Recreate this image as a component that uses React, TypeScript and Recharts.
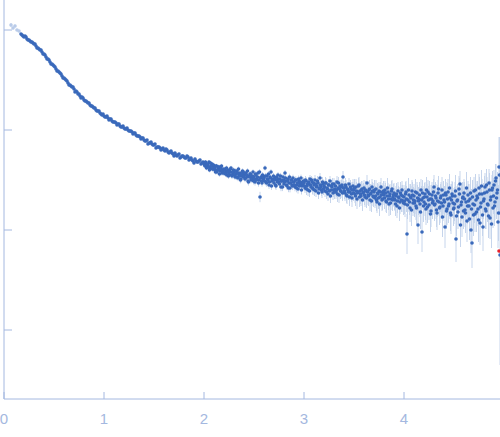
import { ScatterChart, Scatter, XAxis, YAxis, ErrorBar } from 'recharts';

const axisColor = '#a4b8e0';
const pointColor = '#3a69bb';
const excludedColor = '#b9cbe9';
const errorColor = '#c6d5ec';

// x: scattering vector q (nm^-1), y: log10 of intensity
const xTicks = [0, 1, 2, 3, 4];
const yTicks = [-3, -2, -1, 0];

// first points, drawn pale (excluded from fit)
const qExcluded = [0.07, 0.09, 0.11, 0.13, 0.15];
const logIExcluded = [0.05, 0.02, 0.04, 0.0, -0.01];
const errExcluded = [0.02, 0.015, 0.015, 0.01, 0.01];

const qLow = [
  0.17, 0.19, 0.21, 0.23, 0.25, 0.27, 0.29, 0.31, 0.33, 0.35,
  0.37, 0.39, 0.41, 0.43, 0.45, 0.47, 0.49, 0.51, 0.53, 0.55,
  0.57, 0.59, 0.61, 0.63, 0.65, 0.67, 0.69, 0.71, 0.73, 0.75,
  0.77, 0.79, 0.81, 0.83, 0.85, 0.87, 0.89, 0.91, 0.93, 0.95,
  0.97, 0.99, 1.01, 1.03, 1.05, 1.07, 1.09, 1.11, 1.13, 1.15,
  1.17, 1.19, 1.21, 1.23, 1.25, 1.27, 1.29, 1.31, 1.33, 1.35,
  1.37, 1.39, 1.41, 1.43, 1.45, 1.47, 1.49, 1.51, 1.53, 1.55,
  1.57, 1.59, 1.61, 1.63, 1.65, 1.67, 1.69, 1.71, 1.73, 1.75,
  1.77, 1.79, 1.81, 1.83, 1.85, 1.87, 1.89, 1.91, 1.93, 1.95,
  1.97, 1.99,
];
const logILow = [
  -0.04, -0.06, -0.06, -0.09, -0.1, -0.12, -0.13, -0.14, -0.18, -0.19,
  -0.2, -0.24, -0.25, -0.29, -0.3, -0.34, -0.35, -0.37, -0.41, -0.42,
  -0.44, -0.48, -0.49, -0.51, -0.55, -0.56, -0.57, -0.62, -0.62, -0.64,
  -0.68, -0.68, -0.71, -0.72, -0.73, -0.76, -0.77, -0.78, -0.81, -0.81,
  -0.84, -0.84, -0.87, -0.86, -0.9, -0.89, -0.92, -0.92, -0.95, -0.94,
  -0.97, -0.96, -0.99, -0.98, -1.01, -1.01, -1.04, -1.03, -1.06, -1.06,
  -1.09, -1.08, -1.11, -1.1, -1.13, -1.12, -1.15, -1.14, -1.17, -1.17,
  -1.2, -1.18, -1.21, -1.2, -1.23, -1.21, -1.24, -1.23, -1.26, -1.24,
  -1.27, -1.26, -1.28, -1.26, -1.3, -1.28, -1.31, -1.29, -1.32, -1.31,
  -1.34, -1.32,
];
const errLow = [
  0.004, 0.004, 0.004, 0.004, 0.004, 0.004, 0.004, 0.004, 0.004, 0.004,
  0.004, 0.004, 0.004, 0.004, 0.004, 0.004, 0.004, 0.004, 0.004, 0.004,
  0.005, 0.005, 0.005, 0.005, 0.005, 0.005, 0.005, 0.005, 0.005, 0.005,
  0.006, 0.006, 0.006, 0.006, 0.006, 0.006, 0.006, 0.006, 0.006, 0.006,
  0.007, 0.007, 0.007, 0.007, 0.007, 0.007, 0.008, 0.008, 0.008, 0.008,
  0.009, 0.009, 0.009, 0.009, 0.009, 0.01, 0.01, 0.01, 0.01, 0.01,
  0.011, 0.011, 0.011, 0.011, 0.012, 0.012, 0.012, 0.012, 0.013, 0.013,
  0.013, 0.013, 0.014, 0.014, 0.014, 0.014, 0.015, 0.015, 0.015, 0.015,
  0.016, 0.016, 0.016, 0.016, 0.017, 0.017, 0.017, 0.017, 0.018, 0.018,
  0.019, 0.019,
];

// points lying between the low-q points above
const qLowB = [
  0.18, 0.2, 0.22, 0.24, 0.26, 0.28, 0.3, 0.32, 0.34, 0.36,
  0.38, 0.4, 0.42, 0.44, 0.46, 0.48, 0.5, 0.52, 0.54, 0.56,
  0.58, 0.6, 0.62, 0.64, 0.66, 0.68, 0.7, 0.72, 0.74, 0.76,
  0.78, 0.8, 0.82, 0.84, 0.86, 0.88, 0.9, 0.92, 0.94, 0.96,
  0.98, 1.0, 1.02, 1.04, 1.06, 1.08, 1.1, 1.12, 1.14, 1.16,
  1.18, 1.2, 1.22, 1.24, 1.26, 1.28, 1.3, 1.32, 1.34, 1.36,
  1.38, 1.4, 1.42, 1.44, 1.46, 1.48, 1.5, 1.52, 1.54, 1.56,
  1.58, 1.6, 1.62, 1.64, 1.66, 1.68, 1.7, 1.72, 1.74, 1.76,
  1.78, 1.8, 1.82, 1.84, 1.86, 1.88, 1.9, 1.92, 1.94, 1.96,
  1.98,
];
const logILowB = [
  -0.05, -0.07, -0.07, -0.1, -0.11, -0.12, -0.14, -0.16, -0.18, -0.2,
  -0.22, -0.24, -0.27, -0.29, -0.32, -0.34, -0.36, -0.39, -0.41, -0.43,
  -0.46, -0.48, -0.5, -0.53, -0.55, -0.57, -0.59, -0.61, -0.64, -0.66,
  -0.67, -0.7, -0.71, -0.73, -0.75, -0.76, -0.78, -0.8, -0.81, -0.83,
  -0.85, -0.86, -0.87, -0.88, -0.89, -0.91, -0.92, -0.93, -0.94, -0.96,
  -0.97, -0.98, -0.99, -1.0, -1.01, -1.02, -1.03, -1.05, -1.06, -1.07,
  -1.08, -1.1, -1.11, -1.14, -1.13, -1.14, -1.15, -1.18, -1.17, -1.18,
  -1.19, -1.2, -1.19, -1.22, -1.22, -1.23, -1.26, -1.25, -1.25, -1.28,
  -1.26, -1.27, -1.28, -1.27, -1.29, -1.3, -1.33, -1.31, -1.32, -1.3,
  -1.33,
];
const errLowB = [
  0.004, 0.004, 0.004, 0.004, 0.004, 0.004, 0.004, 0.004, 0.004, 0.004,
  0.004, 0.004, 0.004, 0.004, 0.004, 0.004, 0.004, 0.004, 0.004, 0.004,
  0.005, 0.005, 0.005, 0.005, 0.005, 0.005, 0.005, 0.005, 0.005, 0.005,
  0.006, 0.006, 0.006, 0.006, 0.006, 0.006, 0.006, 0.006, 0.006, 0.006,
  0.007, 0.007, 0.007, 0.007, 0.007, 0.007, 0.008, 0.008, 0.008, 0.008,
  0.009, 0.009, 0.009, 0.009, 0.009, 0.01, 0.01, 0.01, 0.01, 0.01,
  0.011, 0.011, 0.011, 0.011, 0.012, 0.012, 0.012, 0.012, 0.013, 0.013,
  0.013, 0.013, 0.014, 0.014, 0.014, 0.014, 0.015, 0.015, 0.015, 0.015,
  0.016, 0.016, 0.016, 0.016, 0.017, 0.017, 0.017, 0.017, 0.018, 0.018,
  0.019,
];

const qMid = [
  2.0, 2.01, 2.02, 2.03, 2.04, 2.05, 2.06, 2.07, 2.08, 2.09,
  2.1, 2.11, 2.12, 2.13, 2.14, 2.15, 2.16, 2.17, 2.18, 2.19,
  2.2, 2.21, 2.22, 2.23, 2.24, 2.25, 2.26, 2.27, 2.28, 2.29,
  2.3, 2.31, 2.32, 2.33, 2.34, 2.35, 2.36, 2.37, 2.38, 2.39,
  2.4, 2.41, 2.42, 2.43, 2.44, 2.45, 2.46, 2.47, 2.48, 2.49,
  2.5, 2.51, 2.52, 2.53, 2.54, 2.55, 2.56, 2.57, 2.58, 2.59,
  2.6, 2.61, 2.62, 2.63, 2.64, 2.65, 2.66, 2.67, 2.68, 2.69,
  2.7, 2.71, 2.72, 2.73, 2.74, 2.75, 2.76, 2.77, 2.78, 2.79,
  2.8, 2.81, 2.82, 2.83, 2.84, 2.85, 2.86, 2.87, 2.88, 2.89,
  2.9, 2.91, 2.92, 2.93, 2.94, 2.95, 2.96, 2.97, 2.98, 2.99,
];
const logIMid = [
  -1.33, -1.36, -1.34, -1.37, -1.35, -1.32, -1.38, -1.36, -1.34, -1.39,
  -1.37, -1.4, -1.36, -1.42, -1.39, -1.37, -1.41, -1.38, -1.43, -1.4,
  -1.39, -1.43, -1.41, -1.45, -1.4, -1.44, -1.42, -1.38, -1.46, -1.43,
  -1.42, -1.47, -1.44, -1.41, -1.48, -1.45, -1.43, -1.49, -1.46, -1.42,
  -1.45, -1.49, -1.43, -1.47, -1.51, -1.46, -1.44, -1.5, -1.47, -1.42,
  -1.47, -1.52, -1.45, -1.49, -1.43, -1.5, -1.67, -1.47, -1.53, -1.46,
  -1.48, -1.38, -1.52, -1.46, -1.5, -1.55, -1.47, -1.42, -1.51, -1.49,
  -1.53, -1.48, -1.56, -1.5, -1.45, -1.52, -1.49, -1.57, -1.51, -1.47,
  -1.54, -1.43, -1.51, -1.56, -1.49, -1.53, -1.58, -1.5, -1.55, -1.48,
  -1.52, -1.57, -1.5, -1.55, -1.59, -1.51, -1.54, -1.48, -1.56, -1.53,
];
const errMid = [
  0.02, 0.022, 0.021, 0.024, 0.02, 0.019, 0.025, 0.022, 0.021, 0.026,
  0.022, 0.025, 0.021, 0.027, 0.024, 0.022, 0.026, 0.023, 0.028, 0.025,
  0.024, 0.027, 0.025, 0.029, 0.023, 0.028, 0.026, 0.022, 0.031, 0.027,
  0.026, 0.03, 0.027, 0.024, 0.032, 0.028, 0.026, 0.033, 0.03, 0.025,
  0.028, 0.032, 0.026, 0.03, 0.034, 0.029, 0.027, 0.033, 0.03, 0.026,
  0.03, 0.035, 0.028, 0.032, 0.027, 0.033, 0.052, 0.03, 0.036, 0.029,
  0.031, 0.026, 0.036, 0.03, 0.034, 0.039, 0.031, 0.028, 0.035, 0.033,
  0.037, 0.032, 0.04, 0.034, 0.03, 0.036, 0.033, 0.042, 0.035, 0.031,
  0.039, 0.03, 0.035, 0.041, 0.034, 0.038, 0.044, 0.035, 0.04, 0.033,
  0.037, 0.043, 0.035, 0.04, 0.046, 0.036, 0.039, 0.034, 0.042, 0.038,
];

// points lying between the ones above (q + 0.005)
const qMidB = [
  2.005, 2.015, 2.025, 2.035, 2.045, 2.055, 2.065, 2.075, 2.085, 2.095,
  2.105, 2.115, 2.125, 2.135, 2.145, 2.155, 2.165, 2.175, 2.185, 2.195,
  2.205, 2.215, 2.225, 2.235, 2.245, 2.255, 2.265, 2.275, 2.285, 2.295,
  2.305, 2.315, 2.325, 2.335, 2.345, 2.355, 2.365, 2.375, 2.385, 2.395,
  2.405, 2.415, 2.425, 2.435, 2.445, 2.455, 2.465, 2.475, 2.485, 2.495,
  2.505, 2.515, 2.525, 2.535, 2.545, 2.555, 2.565, 2.575, 2.585, 2.595,
  2.605, 2.615, 2.625, 2.635, 2.645, 2.655, 2.665, 2.675, 2.685, 2.695,
  2.705, 2.715, 2.725, 2.735, 2.745, 2.755, 2.765, 2.775, 2.785, 2.795,
  2.805, 2.815, 2.825, 2.835, 2.845, 2.855, 2.865, 2.875, 2.885, 2.895,
  2.905, 2.915, 2.925, 2.935, 2.945, 2.955, 2.965, 2.975, 2.985, 2.995,
];
const logIMidB = [
  -1.35, -1.32, -1.38, -1.34, -1.37, -1.4, -1.33, -1.36, -1.39, -1.35,
  -1.38, -1.42, -1.36, -1.4, -1.37, -1.44, -1.39, -1.36, -1.41, -1.43,
  -1.4, -1.44, -1.38, -1.42, -1.46, -1.41, -1.39, -1.45, -1.42, -1.4,
  -1.45, -1.41, -1.47, -1.43, -1.39, -1.46, -1.5, -1.44, -1.41, -1.47,
  -1.43, -1.48, -1.45, -1.41, -1.52, -1.47, -1.44, -1.49, -1.46, -1.51,
  -1.49, -1.44, -1.5, -1.47, -1.53, -1.42, -1.48, -1.51, -1.45, -1.49,
  -1.51, -1.46, -1.53, -1.49, -1.44, -1.52, -1.48, -1.56, -1.5, -1.46,
  -1.5, -1.55, -1.47, -1.52, -1.49, -1.54, -1.46, -1.51, -1.57, -1.5,
  -1.52, -1.48, -1.55, -1.51, -1.58, -1.47, -1.53, -1.5, -1.56, -1.52,
  -1.55, -1.5, -1.58, -1.53, -1.49, -1.56, -1.52, -1.6, -1.54, -1.51,
];
const errMidB = [
  0.021, 0.02, 0.023, 0.022, 0.02, 0.024, 0.021, 0.022, 0.025, 0.021,
  0.024, 0.026, 0.022, 0.025, 0.023, 0.027, 0.024, 0.022, 0.026, 0.027,
  0.025, 0.028, 0.024, 0.026, 0.03, 0.026, 0.025, 0.029, 0.027, 0.025,
  0.029, 0.026, 0.031, 0.028, 0.025, 0.03, 0.033, 0.028, 0.026, 0.031,
  0.028, 0.032, 0.03, 0.027, 0.035, 0.031, 0.029, 0.033, 0.03, 0.034,
  0.033, 0.029, 0.034, 0.031, 0.036, 0.028, 0.032, 0.035, 0.03, 0.033,
  0.035, 0.031, 0.037, 0.033, 0.029, 0.036, 0.032, 0.039, 0.034, 0.031,
  0.035, 0.039, 0.032, 0.037, 0.034, 0.038, 0.031, 0.036, 0.041, 0.035,
  0.037, 0.034, 0.04, 0.036, 0.042, 0.033, 0.038, 0.035, 0.041, 0.037,
  0.04, 0.035, 0.043, 0.038, 0.034, 0.041, 0.037, 0.045, 0.039, 0.036,
];

const qTail = [
  3.0, 3.01, 3.02, 3.03, 3.04, 3.05, 3.06, 3.07, 3.08, 3.09,
  3.1, 3.11, 3.12, 3.13, 3.14, 3.15, 3.16, 3.17, 3.18, 3.19,
  3.2, 3.21, 3.22, 3.23, 3.24, 3.25, 3.26, 3.27, 3.28, 3.29,
  3.3, 3.31, 3.32, 3.33, 3.34, 3.35, 3.36, 3.37, 3.38, 3.39,
  3.4, 3.41, 3.42, 3.43, 3.44, 3.45, 3.46, 3.47, 3.48, 3.49,
  3.5, 3.51, 3.52, 3.53, 3.54, 3.55, 3.56, 3.57, 3.58, 3.59,
  3.6, 3.61, 3.62, 3.63, 3.64, 3.65, 3.66, 3.67, 3.68, 3.69,
  3.7, 3.71, 3.72, 3.73, 3.74, 3.75, 3.76, 3.77, 3.78, 3.79,
  3.8, 3.81, 3.82, 3.83, 3.84, 3.85, 3.86, 3.87, 3.88, 3.89,
  3.9, 3.91, 3.92, 3.93, 3.94, 3.95, 3.96, 3.97, 3.98, 3.99,
  4.0, 4.01, 4.02, 4.03, 4.04, 4.05, 4.06, 4.07, 4.08, 4.09,
  4.1, 4.11, 4.12, 4.13, 4.14, 4.15, 4.16, 4.17, 4.18, 4.19,
  4.2, 4.21, 4.22, 4.23, 4.24, 4.25, 4.26, 4.27, 4.28, 4.29,
  4.3, 4.31, 4.32, 4.33, 4.34, 4.35, 4.36, 4.37, 4.38, 4.39,
  4.4, 4.41, 4.42, 4.43, 4.44, 4.45, 4.46, 4.47, 4.48, 4.49,
  4.5, 4.51, 4.52, 4.53, 4.54, 4.55, 4.56, 4.57, 4.58, 4.59,
  4.6, 4.61, 4.62, 4.63, 4.64, 4.65, 4.66, 4.67, 4.68, 4.69,
  4.7, 4.71, 4.72, 4.73, 4.74, 4.75, 4.76, 4.77, 4.78, 4.79,
  4.8, 4.81, 4.82, 4.83, 4.84, 4.85, 4.86, 4.87, 4.88, 4.89,
  4.9, 4.91, 4.92, 4.93, 4.94, 4.95, 4.96,
];
const logITail = [
  -1.53, -1.58, -1.51, -1.56, -1.6, -1.54, -1.49, -1.57, -1.52, -1.59,
  -1.55, -1.5, -1.61, -1.56, -1.53, -1.59, -1.48, -1.57, -1.62, -1.54,
  -1.56, -1.61, -1.53, -1.58, -1.64, -1.55, -1.51, -1.6, -1.57, -1.63,
  -1.54, -1.59, -1.62, -1.52, -1.58, -1.65, -1.56, -1.61, -1.55, -1.47,
  -1.58, -1.63, -1.57, -1.66, -1.6, -1.54, -1.62, -1.59, -1.68, -1.56,
  -1.6, -1.64, -1.57, -1.69, -1.62, -1.55, -1.61, -1.66, -1.59, -1.63,
  -1.58, -1.67, -1.61, -1.53, -1.65, -1.6, -1.7, -1.63, -1.57, -1.66,
  -1.62, -1.68, -1.59, -1.72, -1.64, -1.61, -1.67, -1.57, -1.7, -1.63,
  -1.65, -1.6, -1.71, -1.66, -1.62, -1.74, -1.64, -1.69, -1.59, -1.67,
  -1.63, -1.7, -1.66, -1.76, -1.61, -1.68, -1.72, -1.65, -1.6, -1.71,
  -1.67, -1.74, -1.62, -2.04, -1.7, -1.65, -1.78, -1.68, -1.61, -1.73,
  -1.66, -1.71, -1.76, -1.63, -1.95, -1.69, -1.74, -1.6, -2.02, -1.68,
  -1.72, -1.64, -1.79, -1.67, -1.62, -1.75, -1.69, -1.81, -1.65, -1.71,
  -1.57, -1.74, -1.68, -1.83, -1.63, -1.72, -1.77, -1.66, -1.6, -1.76,
  -1.7, -1.97, -1.65, -1.79, -1.62, -1.74, -1.68, -1.85, -1.64, -1.73,
  -1.78, -1.66, -2.09, -1.71, -1.82, -1.59, -1.54, -1.75, -1.87, -1.67,
  -1.63, -1.8, -1.72, -1.91, -1.65, -1.76, -1.69, -2.0, -2.13, -1.74,
  -1.61, -1.84, -1.7, -1.66, -1.79, -1.58, -1.93, -1.73, -1.64, -1.97,
  -1.69, -1.57, -1.81, -1.62, -1.75, -1.53, -1.88, -1.67, -1.6, -1.78,
  -1.55, -1.72, -1.48, -1.63, -1.92, -1.37, -2.25,
];
const errTail = [
  0.05, 0.05, 0.04, 0.05, 0.06, 0.05, 0.04, 0.05, 0.05, 0.06,
  0.05, 0.05, 0.06, 0.05, 0.05, 0.06, 0.05, 0.05, 0.06, 0.05,
  0.06, 0.06, 0.05, 0.06, 0.07, 0.06, 0.05, 0.06, 0.06, 0.07,
  0.06, 0.07, 0.07, 0.06, 0.07, 0.08, 0.06, 0.07, 0.06, 0.06,
  0.07, 0.08, 0.07, 0.08, 0.07, 0.06, 0.08, 0.07, 0.09, 0.07,
  0.08, 0.09, 0.08, 0.1, 0.09, 0.08, 0.09, 0.1, 0.08, 0.09,
  0.08, 0.1, 0.09, 0.08, 0.1, 0.09, 0.11, 0.09, 0.08, 0.1,
  0.09, 0.1, 0.09, 0.11, 0.1, 0.09, 0.1, 0.09, 0.11, 0.1,
  0.1, 0.09, 0.11, 0.1, 0.09, 0.12, 0.1, 0.11, 0.09, 0.1,
  0.1, 0.11, 0.1, 0.12, 0.09, 0.11, 0.12, 0.1, 0.09, 0.11,
  0.12, 0.13, 0.11, 0.2, 0.12, 0.11, 0.14, 0.12, 0.11, 0.13,
  0.12, 0.13, 0.14, 0.11, 0.19, 0.12, 0.13, 0.11, 0.2, 0.12,
  0.14, 0.12, 0.16, 0.13, 0.12, 0.15, 0.14, 0.16, 0.13, 0.14,
  0.12, 0.15, 0.14, 0.17, 0.13, 0.14, 0.16, 0.14, 0.13, 0.15,
  0.14, 0.21, 0.13, 0.16, 0.13, 0.15, 0.14, 0.19, 0.13, 0.15,
  0.16, 0.14, 0.23, 0.15, 0.17, 0.13, 0.13, 0.16, 0.2, 0.15,
  0.14, 0.17, 0.15, 0.21, 0.14, 0.16, 0.15, 0.23, 0.25, 0.16,
  0.14, 0.18, 0.16, 0.15, 0.17, 0.14, 0.22, 0.16, 0.15, 0.24,
  0.16, 0.14, 0.18, 0.15, 0.17, 0.14, 0.21, 0.16, 0.15, 0.2,
  0.15, 0.18, 0.14, 0.17, 0.26, 0.3, 1.1,
];

// points lying between the tail points above (q + 0.005)
const qTailB = [
  3.005, 3.015, 3.025, 3.035, 3.045, 3.055, 3.065, 3.075, 3.085, 3.095,
  3.105, 3.115, 3.125, 3.135, 3.145, 3.155, 3.165, 3.175, 3.185, 3.195,
  3.205, 3.215, 3.225, 3.235, 3.245, 3.255, 3.265, 3.275, 3.285, 3.295,
  3.305, 3.315, 3.325, 3.335, 3.345, 3.355, 3.365, 3.375, 3.385, 3.395,
  3.405, 3.415, 3.425, 3.435, 3.445, 3.455, 3.465, 3.475, 3.485, 3.495,
  3.505, 3.515, 3.525, 3.535, 3.545, 3.555, 3.565, 3.575, 3.585, 3.595,
  3.605, 3.615, 3.625, 3.635, 3.645, 3.655, 3.665, 3.675, 3.685, 3.695,
  3.705, 3.715, 3.725, 3.735, 3.745, 3.755, 3.765, 3.775, 3.785, 3.795,
  3.805, 3.815, 3.825, 3.835, 3.845, 3.855, 3.865, 3.875, 3.885, 3.895,
  3.905, 3.915, 3.925, 3.935, 3.945, 3.955, 3.965, 3.975, 3.985, 3.995,
  4.005, 4.015, 4.025, 4.035, 4.045, 4.055, 4.065, 4.075, 4.085, 4.095,
  4.105, 4.115, 4.125, 4.135, 4.145, 4.155, 4.165, 4.175, 4.185, 4.195,
  4.205, 4.215, 4.225, 4.235, 4.245, 4.255, 4.265, 4.275, 4.285, 4.295,
  4.305, 4.315, 4.325, 4.335, 4.345, 4.355, 4.365, 4.375, 4.385, 4.395,
  4.405, 4.415, 4.425, 4.435, 4.445, 4.455, 4.465, 4.475, 4.485, 4.495,
  4.505, 4.515, 4.525, 4.535, 4.545, 4.555, 4.565, 4.575, 4.585, 4.595,
  4.605, 4.615, 4.625, 4.635, 4.645, 4.655, 4.665, 4.675, 4.685, 4.695,
  4.705, 4.715, 4.725, 4.735, 4.745, 4.755, 4.765, 4.775, 4.785, 4.795,
  4.805, 4.815, 4.825, 4.835, 4.845, 4.855, 4.865, 4.875, 4.885, 4.895,
  4.905, 4.915, 4.925, 4.935, 4.945, 4.955,
];
const logITailB = [
  -1.56, -1.5, -1.59, -1.54, -1.52, -1.61, -1.55, -1.5, -1.58, -1.53,
  -1.6, -1.54, -1.57, -1.51, -1.63, -1.58, -1.55, -1.6, -1.52, -1.59,
  -1.57, -1.53, -1.62, -1.59, -1.55, -1.61, -1.66, -1.56, -1.54, -1.6,
  -1.62, -1.56, -1.6, -1.64, -1.53, -1.59, -1.61, -1.57, -1.63, -1.58,
  -1.61, -1.55, -1.65, -1.59, -1.62, -1.67, -1.57, -1.64, -1.6, -1.63,
  -1.58, -1.66, -1.61, -1.63, -1.56, -1.67, -1.64, -1.6, -1.7, -1.62,
  -1.65, -1.6, -1.68, -1.62, -1.66, -1.59, -1.64, -1.71, -1.61, -1.67,
  -1.6, -1.66, -1.7, -1.63, -1.68, -1.74, -1.62, -1.65, -1.69, -1.61,
  -1.68, -1.63, -1.72, -1.58, -1.69, -1.66, -1.73, -1.61, -1.7, -1.65,
  -1.69, -1.74, -1.64, -1.71, -1.67, -1.78, -1.63, -1.7, -1.66, -1.73,
  -1.71, -1.64, -1.69, -1.75, -1.6, -1.72, -1.67, -1.8, -1.65, -1.7,
  -1.73, -1.62, -1.78, -1.68, -1.71, -1.65, -1.82, -1.7, -1.63, -1.76,
  -1.67, -1.74, -1.6, -1.77, -1.7, -1.64, -1.84, -1.69, -1.73, -1.62,
  -1.75, -1.66, -1.8, -1.71, -1.59, -1.78, -1.68, -1.73, -1.87, -1.65,
  -1.72, -1.63, -1.81, -1.69, -1.76, -1.58, -1.83, -1.7, -1.66, -1.79,
  -1.74, -1.61, -1.86, -1.7, -1.77, -1.64, -1.95, -1.72, -1.68, -1.81,
  -1.69, -1.83, -1.58, -1.76, -1.71, -1.89, -1.63, -1.79, -1.67, -1.85,
  -1.75, -1.6, -1.82, -1.68, -1.9, -1.64, -1.77, -1.56, -1.85, -1.71,
  -1.63, -1.79, -1.55, -1.74, -1.86, -1.6, -1.7, -1.94, -1.58, -1.66,
  -1.76, -1.51, -1.68, -1.6, -1.83, -1.45,
];
const errTailB = [
  0.05, 0.04, 0.06, 0.05, 0.05, 0.06, 0.05, 0.04, 0.06, 0.05,
  0.06, 0.05, 0.05, 0.05, 0.06, 0.06, 0.05, 0.06, 0.05, 0.06,
  0.06, 0.06, 0.07, 0.06, 0.06, 0.07, 0.07, 0.06, 0.06, 0.07,
  0.07, 0.06, 0.07, 0.08, 0.06, 0.07, 0.08, 0.07, 0.08, 0.07,
  0.08, 0.07, 0.08, 0.07, 0.08, 0.09, 0.07, 0.08, 0.08, 0.08,
  0.09, 0.1, 0.09, 0.09, 0.08, 0.1, 0.1, 0.09, 0.11, 0.09,
  0.1, 0.09, 0.1, 0.09, 0.1, 0.09, 0.1, 0.11, 0.09, 0.1,
  0.1, 0.1, 0.11, 0.1, 0.11, 0.12, 0.1, 0.1, 0.11, 0.1,
  0.11, 0.1, 0.11, 0.1, 0.11, 0.11, 0.12, 0.1, 0.11, 0.11,
  0.11, 0.12, 0.11, 0.12, 0.11, 0.13, 0.11, 0.12, 0.11, 0.12,
  0.13, 0.12, 0.13, 0.14, 0.12, 0.13, 0.13, 0.16, 0.13, 0.13,
  0.14, 0.13, 0.16, 0.13, 0.14, 0.13, 0.17, 0.14, 0.13, 0.16,
  0.14, 0.16, 0.13, 0.16, 0.14, 0.13, 0.18, 0.14, 0.16, 0.13,
  0.16, 0.14, 0.17, 0.16, 0.13, 0.17, 0.14, 0.16, 0.2, 0.14,
  0.16, 0.14, 0.18, 0.16, 0.17, 0.14, 0.18, 0.16, 0.14, 0.17,
  0.17, 0.16, 0.2, 0.16, 0.18, 0.16, 0.22, 0.17, 0.16, 0.18,
  0.17, 0.2, 0.16, 0.18, 0.17, 0.21, 0.16, 0.2, 0.17, 0.21,
  0.18, 0.16, 0.2, 0.17, 0.22, 0.17, 0.2, 0.16, 0.21, 0.18,
  0.17, 0.2, 0.16, 0.18, 0.22, 0.17, 0.18, 0.24, 0.17, 0.18,
  0.2, 0.17, 0.21, 0.18, 0.28, 0.38,
];

// single highlighted point near the end
const qMarked = [4.95];
const logIMarked = [-2.21];

const toRows = (q: number[], logI: number[], err: number[]) =>
  q.map((x, i) => ({ q: x, logI: logI[i], err: err[i] }));

const excluded = toRows(qExcluded, logIExcluded, errExcluded);
const measured = [
  ...toRows(qLow, logILow, errLow),
  ...toRows(qLowB, logILowB, errLowB),
  ...toRows(qMid, logIMid, errMid),
  ...toRows(qMidB, logIMidB, errMidB),
  ...toRows(qTail, logITail, errTail),
  ...toRows(qTailB, logITailB, errTailB),
];
const marked = qMarked.map((x, i) => ({ q: x, logI: logIMarked[i] }));

const dot = (color: string) => (props: any) =>
  <circle cx={props.cx} cy={props.cy} r={1.8} fill={color} />;

function XTick({ x, y, payload }: any) {
  return (
    <g>
      <line x1={x} x2={x} y1={y} y2={y - 7} stroke={axisColor} />
      <text
        x={x}
        y={y + 25}
        textAnchor="middle"
        fill={axisColor}
        fontSize={15}
        fontFamily="'Liberation Sans', Arial, sans-serif"
      >
        {payload.value}
      </text>
    </g>
  );
}

function YTick({ x, y }: any) {
  return <line x1={x} x2={x + 8} y1={y} y2={y} stroke={axisColor} />;
}

export default function App() {
  return (
    <div style={{ position: 'absolute', left: 0, top: 0, width: 500, height: 437 }}>
      <ScatterChart width={500} height={437} margin={{ top: 0, right: 0, bottom: 0, left: 4 }}>
        <XAxis
          type="number"
          dataKey="q"
          domain={[0, 4.96]}
          ticks={xTicks}
          allowDataOverflow
          height={38}
          tickSize={0}
          tickMargin={0}
          tickLine={false}
          axisLine={{ stroke: axisColor }}
          tick={<XTick />}
        />
        <YAxis
          type="number"
          dataKey="logI"
          domain={[-3.69, 0.3]}
          ticks={yTicks}
          allowDataOverflow
          width={40}
          mirror
          tickSize={0}
          tickMargin={0}
          tickLine={false}
          tick={<YTick />}
          axisLine={{ stroke: axisColor }}
        />
        <Scatter data={excluded} shape={dot(excludedColor)} isAnimationActive={false}>
          <ErrorBar dataKey="err" direction="y" width={0} stroke={errorColor} strokeWidth={1} />
        </Scatter>
        <Scatter data={measured} shape={dot(pointColor)} isAnimationActive={false}>
          <ErrorBar dataKey="err" direction="y" width={0} stroke={errorColor} strokeWidth={1} />
        </Scatter>
        <Scatter data={marked} shape={dot('#e8202a')} isAnimationActive={false} />
      </ScatterChart>
    </div>
  );
}
